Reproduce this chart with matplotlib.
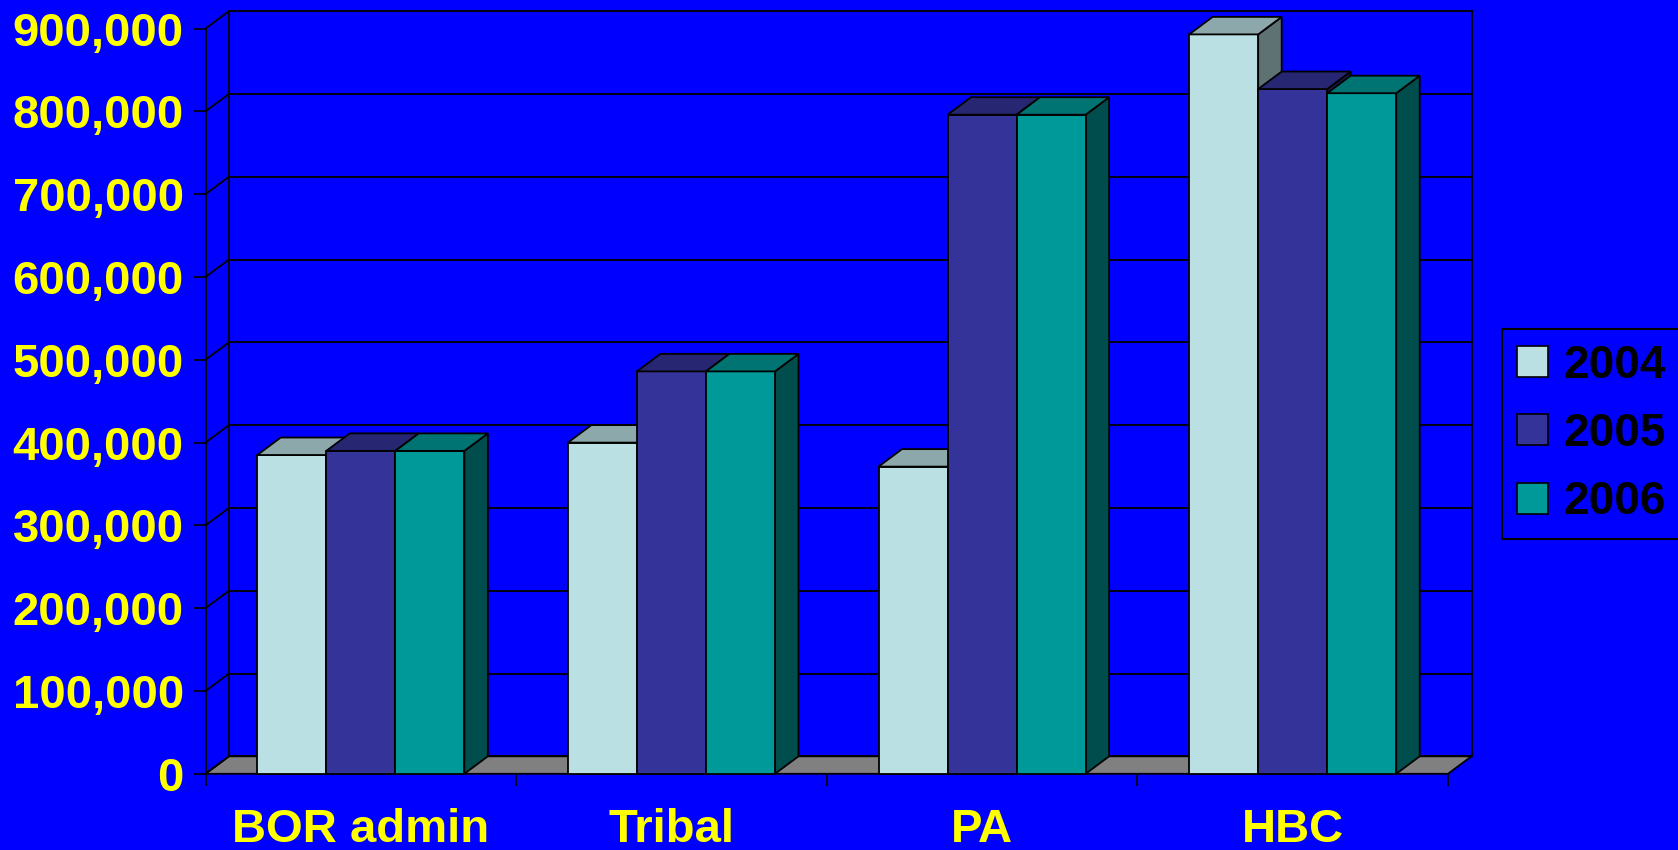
import matplotlib
matplotlib.use("Agg")
import matplotlib.pyplot as plt
from matplotlib.patches import Polygon, Rectangle, Patch
import numpy as np

categories = ["BOR admin", "Tribal", "PA", "HBC"]
years = ["2004", "2005", "2006"]
v2004 = [385000, 400000, 371000, 893000]
v2005 = [390000, 486000, 796000, 827000]
v2006 = [390000, 486000, 796000, 822000]
yticks = np.arange(0, 900001, 100000)

front_colors = ["#BBE0E3", "#333399", "#009999"]
top_colors = ["#8CA8AA", "#262673", "#007373"]
side_colors = ["#5E7274", "#1A1A4D", "#004D4D"]
BG = "#0000FF"

plt.rcParams['font.family'] = ['Liberation Sans', 'DejaVu Sans']
plt.rcParams['font.weight'] = 'bold'

W, H = 1678, 850
fig = plt.figure(figsize=(W / 100, H / 100), dpi=100, facecolor=BG)
# axes = front plane of the 3d box
ax = fig.add_axes([205.5 / W, (H - 773.8) / H, (1448 - 205.5) / W, (773.8 - 28.6) / H])
ax.set_xlim(0, 4)
ax.set_ylim(0, 900000)
ax.set_facecolor("none")
for s in ax.spines.values():
    s.set_visible(False)

DX, DY = 23.5, 17.5  # depth offset, pixels


def back(x, y):
    px, py = ax.transData.transform((x, y))
    return tuple(ax.transData.inverted().transform((px + DX, py + DY)))


lw = 1.3
# floor
ax.add_patch(Polygon([(0, 0), (4, 0), back(4, 0), back(0, 0)], closed=True,
                     facecolor="#808080", edgecolor="black", lw=lw, zorder=1, clip_on=False))

# walls and gridlines
for v in yticks:
    b0, b1 = back(0, v), back(4, v)
    ax.plot([b0[0], b1[0]], [b0[1], b1[1]], color="black", lw=lw, zorder=1, clip_on=False)
    ax.plot([0, b0[0]], [v, b0[1]], color="black", lw=lw, zorder=1, clip_on=False)
for x in (0, 4):
    p0, p1 = back(x, 0), back(x, yticks[-1])
    ax.plot([p0[0], p1[0]], [p0[1], p1[1]], color="black", lw=lw, zorder=1, clip_on=False)
ax.plot([0, 0], [0, yticks[-1]], color="black", lw=lw, zorder=1, clip_on=False)

# bars
series = [v2004, v2005, v2006]
w = 1 / 4.5
z = 2
for i in range(len(categories)):
    for j, vals in enumerate(series):
        v = vals[i]
        x0 = i + (1 - 3 * w) / 2 + j * w
        x1 = x0 + w
        ax.add_patch(Polygon([(x1, 0), back(x1, 0), back(x1, v), (x1, v)], closed=True,
                             facecolor=side_colors[j], edgecolor="black", lw=lw, zorder=z, clip_on=False))
        ax.add_patch(Rectangle((x0, 0), w, v, facecolor=front_colors[j], edgecolor="black",
                               lw=lw, zorder=z, clip_on=False))
        ax.add_patch(Polygon([(x0, v), (x1, v), back(x1, v), back(x0, v)], closed=True,
                             facecolor=top_colors[j], edgecolor="black", lw=lw, zorder=z, clip_on=False))
        z += 1

# ticks
ax.set_yticks(yticks)
ax.set_yticklabels([f"{v:,}" for v in yticks])
ax.tick_params(axis="y", length=8.6, width=1.2, color="black", pad=7,
               labelcolor="#FFFF00", labelsize=34)
ax.set_xticks(np.arange(len(categories)) + 0.5)
ax.set_xticklabels(categories)
ax.set_xticks(np.arange(len(categories) + 1), minor=True)
ax.tick_params(axis="x", which="major", length=0, pad=24.5, labelcolor="#FFFF00", labelsize=34)
ax.tick_params(axis="x", which="minor", length=8.6, width=1.2, color="black")

handles = [Patch(facecolor=c, edgecolor="black", lw=1.2, label=y) for c, y in zip(front_colors, years)]
leg = fig.legend(handles=handles, loc="center left", bbox_to_anchor=(1502 / W, 1 - 434 / H),
                 frameon=True, fancybox=False, facecolor=BG, edgecolor="black", framealpha=1,
                 fontsize=33, handlelength=0.68, handleheight=0.66, handletextpad=0.33,
                 labelspacing=0.53, borderpad=0.33, borderaxespad=0)
leg.get_frame().set_linewidth(1.5)

fig.savefig("out.png", dpi=100, facecolor=BG)
